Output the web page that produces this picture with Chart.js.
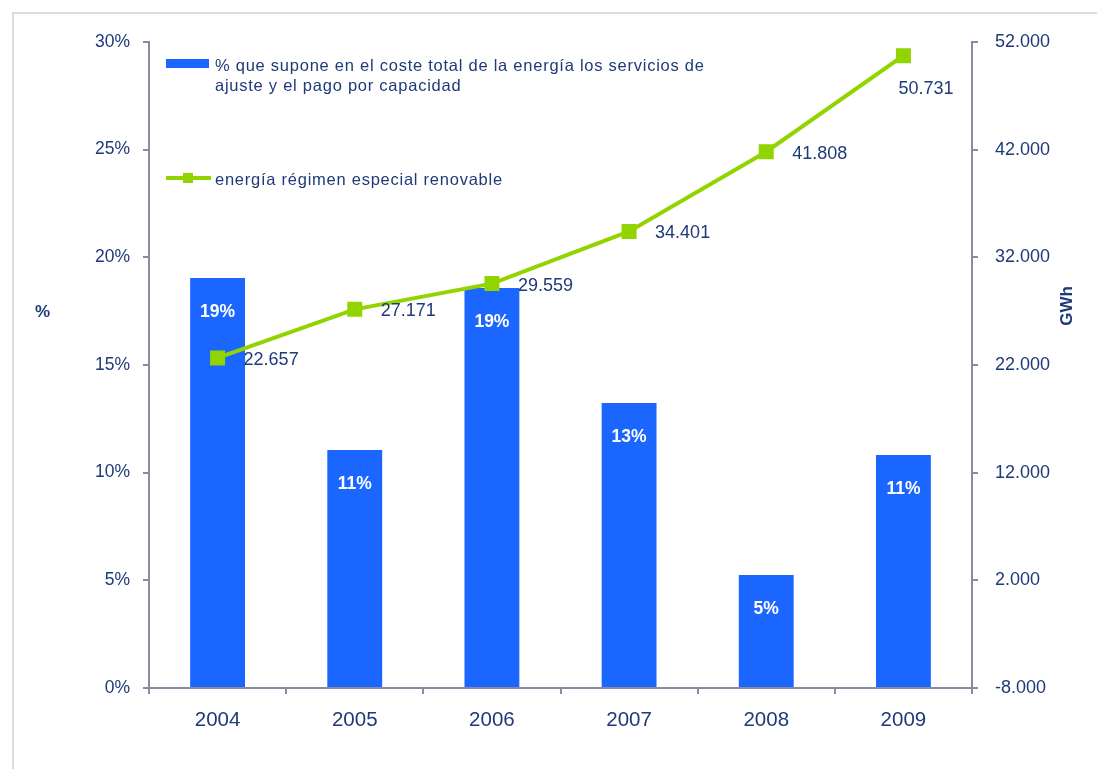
<!DOCTYPE html>
<html>
<head>
<meta charset="utf-8">
<script src="https://cdn.jsdelivr.net/npm/chart.js@4/dist/chart.umd.min.js"></script>
<style>
  html,body{ margin:0; padding:0; background:#fff; }
  #wrap{ position:relative; width:1097px; height:769px; overflow:hidden; font-family:"Liberation Sans", Arial, sans-serif; }
  #frame{ position:absolute; left:12px; top:12px; width:1200px; height:900px; border:2px solid #dcdcdc; }
  canvas{ position:absolute; left:0; top:0; }
  .lg{ position:absolute; color:#1f3a78; font-size:16.5px; line-height:20px; letter-spacing:0.75px; white-space:nowrap; }
  .ttl{ position:absolute; color:#1f3a78; font-weight:bold; font-size:17px; }
</style>
</head>
<body>
<div id="wrap">
  <div id="frame"></div>
  <canvas id="chart" width="1097" height="769"></canvas>
  <div class="lg" style="left:166px;top:59px;width:43px;height:9px;background:#1a66ff"></div>
  <div class="lg" style="left:215px;top:55px">% que supone en el coste total de la energía los servicios de<br>ajuste y el pago por capacidad</div>
  <div class="lg" style="left:166px;top:176px;width:45px;height:4px;background:#92d400"></div>
  <div class="lg" style="left:183px;top:173px;width:10px;height:10px;background:#92d400"></div>
  <div class="lg" style="left:215px;top:169px">energía régimen especial renovable</div>
  <div class="ttl" style="left:35px;top:302px">%</div>
  <div class="ttl" style="left:1040px;top:296px;transform:rotate(-90deg);transform-origin:center;width:54px;text-align:center">GWh</div>
</div>
<script>
// ── DATOS ───────────────────────────────────────────────
const YEARS      = ['2004','2005','2006','2007','2008','2009'];
const PCT_COSTE  = [19.04, 11.05, 18.58, 13.24, 5.25, 10.82];
const ENERGIA    = [22657, 27171, 29559, 34401, 41808, 50731];
const PCT_TICKS  = [0, 5, 10, 15, 20, 25, 30];
const GWH_TICKS  = [-8000, 2000, 12000, 22000, 32000, 42000, 52000];

// ── ESTILO ──────────────────────────────────────────────
const NAVY  = '#1f3a78';
const BLUE  = '#1a66ff';
const GREEN = '#92d400';
const AXIS  = '#8a8aa2';
const FONT  = '"Liberation Sans", Arial, sans-serif';

function fmtMiles(v){ return (v<0?'-':'') + Math.abs(v).toLocaleString('de-DE'); }

// ── ETIQUETAS ───────────────────────────────────────────
const labelsPlugin = {
  id:'labels',
  afterDatasetsDraw(chart){
    const ctx = chart.ctx;
    ctx.save();
    // barras
    chart.getDatasetMeta(0).data.forEach((b,i)=>{
      ctx.font = 'bold 17.5px ' + FONT;
      ctx.fillStyle = '#fff';
      ctx.textAlign = 'center';
      ctx.textBaseline = 'middle';
      ctx.fillText(Math.round(PCT_COSTE[i]) + '%', b.x, b.y + 34);
    });
    // línea
    chart.getDatasetMeta(1).data.forEach((p,i)=>{
      ctx.font = '18px ' + FONT;
      ctx.fillStyle = NAVY;
      ctx.textBaseline = 'middle';
      const last = i === ENERGIA.length-1;
      ctx.textAlign = 'left';
      ctx.fillText(fmtMiles(ENERGIA[i]), last ? p.x-5 : p.x+26, last ? p.y+33 : p.y+2);
    });
    ctx.restore();
  }
};

// ── GRÁFICO ─────────────────────────────────────────────
new Chart(document.getElementById('chart'), {
  type:'bar',
  data:{
    labels: YEARS,
    datasets:[
      { type:'bar', data:PCT_COSTE, yAxisID:'y', backgroundColor:BLUE, barPercentage:0.8, categoryPercentage:0.5, order:2 },
      { type:'line', data:ENERGIA, yAxisID:'y1', borderColor:GREEN, borderWidth:4, backgroundColor:GREEN,
        pointStyle:'rect', pointRadius:10.6, pointBorderWidth:0, pointBackgroundColor:GREEN, order:1 }
    ]
  },
  plugins:[labelsPlugin],
  options:{
    responsive:false,
    animation:false,
    layout:{ padding:{ top:42, left:0, right:0, bottom:0 } },
    plugins:{ legend:{ display:false }, tooltip:{ enabled:false } },
    scales:{
      x:{
        grid:{ display:true, drawOnChartArea:false, color:AXIS, tickLength:6, lineWidth:2 },
        border:{ color:AXIS, width:2 },
        ticks:{ color:NAVY, font:{ family:FONT, size:20.5 }, padding:14 },
        afterFit(s){ s.height = 81; }
      },
      y:{
        position:'left', min:0, max:30,
        afterBuildTicks(s){ s.ticks = PCT_TICKS.map(v=>({value:v})); },
        grid:{ display:true, drawOnChartArea:false, color:AXIS, tickLength:6, lineWidth:2 },
        border:{ color:AXIS, width:2 },
        ticks:{ color:NAVY, font:{ family:FONT, size:17.5 }, padding:13, callback:v=>v+'%' },
        afterFit(s){ s.width = 149; }
      },
      y1:{
        position:'right', min:-8000, max:52000,
        afterBuildTicks(s){ s.ticks = GWH_TICKS.map(v=>({value:v})); },
        grid:{ display:true, drawOnChartArea:false, color:AXIS, tickLength:6, lineWidth:2 },
        border:{ color:AXIS, width:2 },
        ticks:{ color:NAVY, font:{ family:FONT, size:18 }, padding:17, callback:v=>fmtMiles(v) },
        afterFit(s){ s.width = 125; }
      }
    }
  }
});
</script>
</body>
</html>
